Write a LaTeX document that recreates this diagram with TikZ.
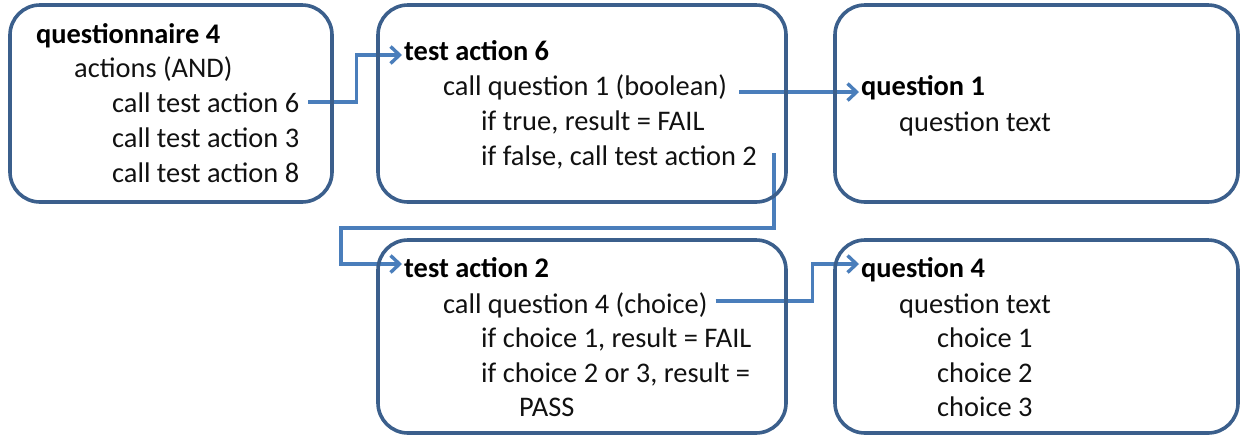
\documentclass[tikz,border=0pt]{standalone}
\usepackage{fontspec}
\setmainfont{Carlito}
\usetikzlibrary{arrows.meta,calc}
\definecolor{boxc}{HTML}{3B5F8C}
\definecolor{arrc}{HTML}{4A7EBB}
\definecolor{txt}{HTML}{111111}
\begin{document}
\begin{tikzpicture}[x=1pt,y=-1pt,
  box/.style={draw=boxc,line width=3.6pt,rounded corners=30pt,inner sep=0pt},
  ln/.style={anchor=base west,inner sep=0pt,font=\fontsize{28.4}{34}\selectfont,text=txt},
  hd/.style={anchor=base west,inner sep=0pt,font=\fontsize{28.4}{34}\selectfont\bfseries,text=black},
  conn/.style={draw=arrc,line width=3.4pt,-{Straight Barb[length=9pt,width=17pt]}}]
\useasboundingbox (0,0) rectangle (1241,437);

% text lines
\node[hd] (q4)   at (36,43)  {questionnaire 4};
\node[ln] (q4a)  at (74,77)  {actions (AND)};
\node[ln] (q4c6) at (112,112) {call test action 6};
\node[ln] (q4c3) at (112,147) {call test action 3};
\node[ln] (q4c8) at (112,182) {call test action 8};

\node[hd] (t6)  at (404,60)  {test action 6};
\node[ln] (t6c) at (443,95)  {call question 1 (boolean)};
\node[ln] (t6t) at (481,130) {if true, result = FAIL};
\node[ln] (t6f) at (481,165) {if false, call test action 2};

\node[hd] (q1)  at (861,95)  {question 1};
\node[ln] (q1t) at (899,131) {question text};

\node[hd] (t2)  at (404,277) {test action 2};
\node[ln] (t2c) at (443,313) {call question 4 (choice)};
\node[ln] (t2a) at (481,347) {if choice 1, result = FAIL};
\node[ln] (t2b) at (481,382) {if choice 2 or 3, result =};
\node[ln] (t2p) at (519,416) {PASS};

\node[hd] (qf)  at (861,277) {question 4};
\node[ln] (qft) at (899,313) {question text};
\node[ln] (ch1) at (937,347) {choice 1};
\node[ln] (ch2) at (937,382) {choice 2};
\node[ln] (ch3) at (937,416) {choice 3};

% connectors
\draw[conn] ($(q4c6.base east)+(9,-10)$) -- ++(48,0) |- ($(t6.base west)+(-2,-5)$);
\draw[conn] ($(t6c.base east)+(12,-3)$) -- ($(q1.base west)+(-2,-3)$);
\draw[conn] ($(t6f.base east)+(17,-12)$) |- ($(t2.base west)+(-63,-49)$) |- ($(t2.base west)+(-2,-13)$);
\draw[conn] ($(t2c.base east)+(8,-12)$) -- ++(97,0) |- ($(qf.base west)+(-2,-13)$);

% boxes
\node[box,minimum width=322pt,minimum height=197pt] (b1) at (171,103.5) {};
\node[box,minimum width=408pt,minimum height=197pt] (b2) at (582,103.5) {};
\node[box,minimum width=403pt,minimum height=197pt] (b3) at (1036.5,103.5) {};
\node[box,minimum width=408pt,minimum height=193pt] (b4) at (582,336.5) {};
\node[box,minimum width=403pt,minimum height=193pt] (b5) at (1036.5,336.5) {};
\end{tikzpicture}
\end{document}
